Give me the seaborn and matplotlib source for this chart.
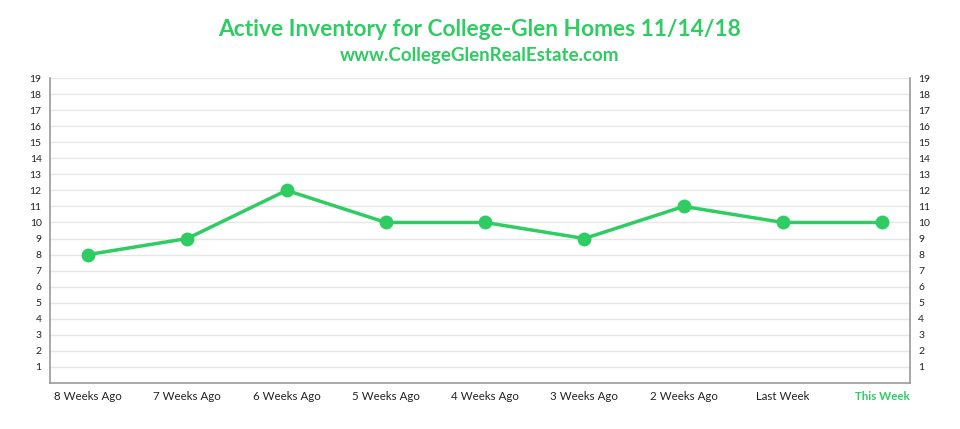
import matplotlib
matplotlib.use("Agg")
import matplotlib.pyplot as plt
import seaborn as sns
import pandas as pd

categories = ["8 Weeks Ago", "7 Weeks Ago", "6 Weeks Ago", "5 Weeks Ago", "4 Weeks Ago",
              "3 Weeks Ago", "2 Weeks Ago", "Last Week", "This Week"]
values = [8, 9, 12, 10, 10, 9, 11, 10, 10]
yticks = list(range(1, 20))

green = "#2ecc62"
df = pd.DataFrame({"x": range(len(categories)), "v": values})

fig = plt.figure(figsize=(9.6, 4.29), dpi=100)
ax = fig.add_axes([50/960, 1-383/429, 860/960, (383-78)/429])
sns.lineplot(data=df, x="x", y="v", ax=ax, color=green, linewidth=2.5,
             marker="o", markersize=10, markeredgewidth=0)
ax.set_xlim(-0.383, 8.28)
ax.set_ylim(0, 19)
ax.set_yticks(yticks)
ax.set_yticklabels([str(t) for t in yticks], fontsize=7.5, fontfamily="Lato")
ax.set_xticks(range(len(categories)))
ax.set_xticklabels(categories, fontsize=8.3, fontfamily="Lato", color="#222222")
ax.get_xticklabels()[-1].set_color(green)
ax.get_xticklabels()[-1].set_fontweight("bold")
ax.tick_params(axis="both", length=0, pad=6)
ax.tick_params(axis="y", labelright=True, right=False, labelcolor="#222222")
ax.grid(axis="y", color="#e6e6e6", linewidth=1)
ax.set_axisbelow(True)
ax.spines["top"].set_visible(False)
for s in ["left", "right", "bottom"]:
    ax.spines[s].set_color("#999999")
    ax.spines[s].set_linewidth(1.2)
ax.set_xlabel("")
ax.set_ylabel("")
fig.text(0.5, 1-30/429, "Active Inventory for College-Glen Homes 11/14/18", ha="center", va="center",
         fontsize=16.4, color=green, fontfamily="Lato", fontweight="bold")
fig.text(0.5, 1-56/429, "www.CollegeGlenRealEstate.com", ha="center", va="center",
         fontsize=13.5, color=green, fontfamily="Lato", fontweight="bold")
fig.savefig("out.png", dpi=100)
